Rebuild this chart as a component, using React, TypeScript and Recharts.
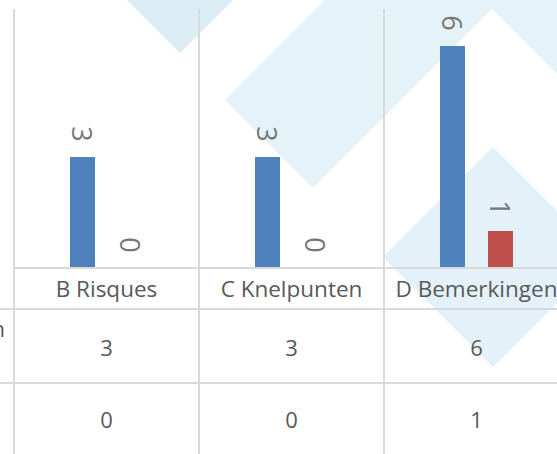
import React from 'react';
import { BarChart, Bar, XAxis, YAxis } from 'recharts';

const categories = ['B Risques', 'C Knelpunten', 'D Bemerkingen'];
const seriesNames = ['Aantal bevindingen', 'Opgelost'];
const seriesA = [3, 3, 6];
const seriesB = [0, 0, 1];
const colors = ['#4f81bd', '#c0504d'];

const data = categories.map((name, i) => ({ name, a: seriesA[i], b: seriesB[i] }));

const CHART_W = 569;
const CHART_H = 454;
const MARGIN = { top: 9, right: 0, left: 14, bottom: 0 };
const AXIS_H = 186;
const PLOT_W = CHART_W - MARGIN.left - MARGIN.right;
const GRID = '#d9d9d9';
const TEXT = '#595959';
const FONT = "'Open Sans', sans-serif";

const makeShape = (key: string, fill: string) => (props: any) => {
  const { x, y, width, height, payload } = props;
  const value = payload ? payload[key] : props.value;
  const cx = x + width / 2;
  const cy = y - 23;
  return (
    <g>
      {height > 0 && <rect x={x} y={y} width={width} height={height} fill={fill} />}
      <text
        x={cx}
        y={cy}
        transform={`rotate(90, ${cx}, ${cy})`}
        textAnchor="middle"
        dominantBaseline="central"
        fill="#767676"
        fontSize={27}
        fontFamily={FONT}
      >
        {value}
      </text>
    </g>
  );
};

const shapeA = makeShape('a', colors[0]);
const shapeB = makeShape('b', colors[1]);

const TableTick = (props: any) => {
  const { x, y, payload } = props;
  const i = categories.indexOf(payload.value);
  const step = PLOT_W / categories.length;
  const left = x - step / 2;
  const right = x + step / 2;
  const top = MARGIN.top;
  const bottom = CHART_H + 10;
  const row1 = y + 41;
  const row2 = y + 115;
  return (
    <g>
      <line x1={left} y1={top} x2={left} y2={bottom} stroke={GRID} strokeWidth={2} />
      {i === categories.length - 1 && (
        <line x1={right} y1={top} x2={right} y2={bottom} stroke={GRID} strokeWidth={2} />
      )}
      {i === 0 && (
        <g>
          <line x1={0} y1={row1} x2={CHART_W} y2={row1} stroke={GRID} strokeWidth={2} />
          <line x1={0} y1={row2} x2={CHART_W} y2={row2} stroke={GRID} strokeWidth={2} />
          <text x={5} y={y + 69} textAnchor="end" fill={TEXT} fontSize={22} fontFamily={FONT}>
            {seriesNames[0]}
          </text>
        </g>
      )}
      <text x={x} y={y + 29} textAnchor="middle" fill={TEXT} fontSize={22.5} fontFamily={FONT}>
        {payload.value}
      </text>
      <text x={x} y={y + 88} textAnchor="middle" fill={TEXT} fontSize={22} fontFamily={FONT}>
        {seriesA[i]}
      </text>
      <text x={x} y={y + 160} textAnchor="middle" fill={TEXT} fontSize={22} fontFamily={FONT}>
        {seriesB[i]}
      </text>
    </g>
  );
};

const Background = () => (
  <svg width={557} height={454} style={{ position: 'absolute', left: 0, top: 0 }}>
    <polygon points="180,53 100,-27 180,-107 260,-27" fill="#dcecf5" />
    <polygon points="225,100 313,188 493,8 405,-80" fill="#e5f2f8" />
    <polygon points="475,-8 600,117 700,17 575,-108" fill="#e5f2f8" />
    <polygon points="493,147 383,257 493,367 603,257" fill="#e4f1f8" />
  </svg>
);

export default function App() {
  return (
    <div
      style={{
        position: 'absolute',
        left: 0,
        top: 0,
        width: 557,
        height: 454,
        overflow: 'hidden',
        background: '#ffffff',
      }}
    >
      <Background />
      <div style={{ position: 'absolute', left: 0, top: 0 }}>
        <BarChart
          width={CHART_W}
          height={CHART_H}
          data={data}
          margin={MARGIN}
          barSize={25}
          barGap={23}
        >
          <XAxis
            dataKey="name"
            height={AXIS_H}
            axisLine={{ stroke: GRID, strokeWidth: 2 }}
            tickLine={false}
            tickSize={0}
            tickMargin={0}
            interval={0}
            tick={<TableTick />}
          />
          <YAxis hide domain={[0, 7]} type="number" />
          <Bar
            dataKey="a"
            name={seriesNames[0]}
            fill={colors[0]}
            shape={shapeA}
            isAnimationActive={false}
          />
          <Bar
            dataKey="b"
            name={seriesNames[1]}
            fill={colors[1]}
            shape={shapeB}
            isAnimationActive={false}
          />
        </BarChart>
      </div>
    </div>
  );
}
